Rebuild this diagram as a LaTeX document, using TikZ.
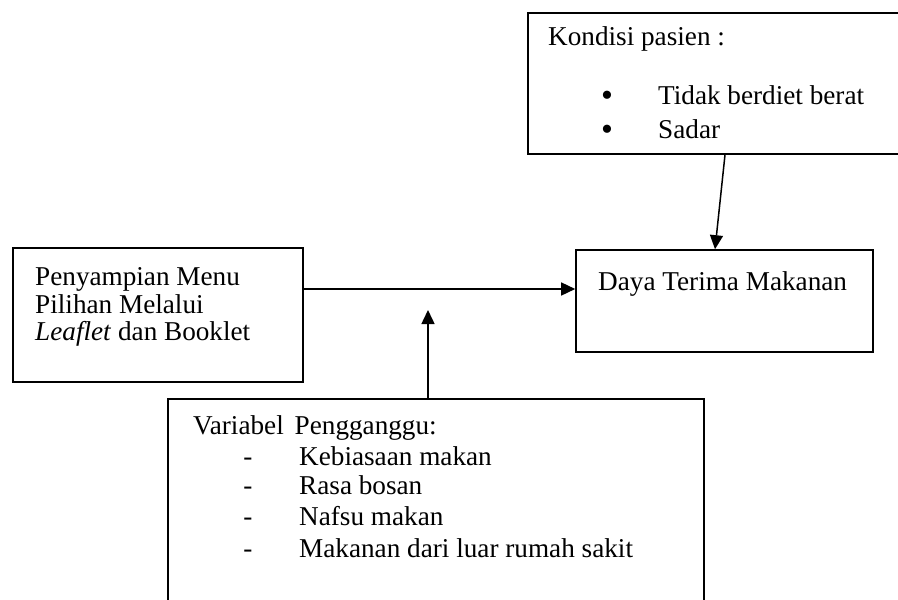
\documentclass[tikz,border=0pt]{standalone}
\usepackage{fontspec}
\setmainfont{Liberation Serif}
\usetikzlibrary{arrows.meta}
\tikzset{
  box/.style={draw=black, line width=1.6pt, rectangle, inner sep=0pt},
  txt/.style={anchor=base west, inner sep=0pt, font=\fontsize{27.2}{28}\selectfont},
  sym/.style={anchor=base, inner sep=0pt, font=\fontsize{27.2}{28}\selectfont},
  bul/.style={anchor=base, inner sep=0pt, font=\fontsize{34}{34}\selectfont},
  arr/.style={line width=1.5pt, -{Triangle[length=14pt,width=13pt]}}
}
\begin{document}
\begin{tikzpicture}[x=1pt,y=-1pt]
\useasboundingbox (0,0) rectangle (898,600);
\begin{scope}
\clip (0,0) rectangle (898,600);
% boxes
\node[box, minimum width=377pt, minimum height=141pt] (top) at (716.5,83.5) {};
\node[box, minimum width=290pt, minimum height=134pt] (left) at (158,315) {};
\node[box, minimum width=297pt, minimum height=102pt] (right) at (724.5,301) {};
\node[box, minimum width=536pt, minimum height=211pt] (bottom) at (436,504.5) {};
\end{scope}
% texts
\node[txt] (t1) at (548,45) {Kondisi pasien :};
\node[bul] (b1) at (607,106) {•};
\node[bul] (b2) at (607,140) {•};
\node[txt] (t2) at (658,104) {Tidak berdiet berat};
\node[txt] (t3) at (658,138) {Sadar};
\node[txt] (l1) at (35,285) {Penyampian Menu};
\node[txt] (l2) at (35,313) {Pilihan Melalui};
\node[txt] (l3) at (35,340) {\textit{Leaflet} dan Booklet};
\node[txt] (r1) at (598,290) {Daya Terima Makanan};
\node[txt] (v0) at (193,434) {Variabel~\hspace{0.15em}Pengganggu:};
\node[sym] (d1) at (248,465) {-};
\node[sym] (d2) at (248,494) {-};
\node[sym] (d3) at (248,525) {-};
\node[sym] (d4) at (248,557) {-};
\node[txt] (v1) at (299,465) {Kebiasaan makan};
\node[txt] (v2) at (299,494) {Rasa bosan};
\node[txt] (v3) at (299,525) {Nafsu makan};
\node[txt] (v4) at (299,557) {Makanan dari luar rumah sakit};
% connectors
\coordinate (h) at (0,289);
\coordinate (vt) at (428,310);
\draw[arr] (left.east |- h) -- (right.west |- h);
\draw[arr] ([xshift=8.5pt]top.south) -- ([xshift=-9.5pt]right.north);
\draw[arr] (bottom.north -| vt) -- (vt);
\end{tikzpicture}
\end{document}
